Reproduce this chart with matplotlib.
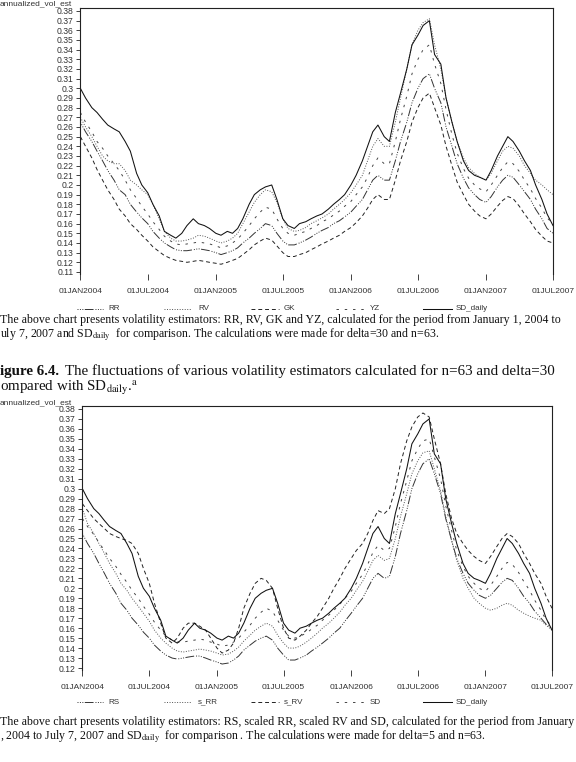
import matplotlib
matplotlib.use('Agg')
import matplotlib.pyplot as plt
import numpy as np
import pandas as pd
from matplotlib.lines import Line2D

plt.rcParams['mathtext.fontset'] = 'stix'

# ---------------- data (semi-monthly readings, 1st and 15th) ----------------
dates = pd.date_range('2004-01-01', '2007-07-01', freq='SMS')

sd_daily = [0.300,0.290,0.280,0.275,0.268,0.262,0.258,0.255,0.245,0.235,0.212,0.200,0.192,0.180,0.168,0.152,0.148,0.145,0.150,0.158,0.165,0.160,0.158,0.155,
            0.150,0.148,0.152,0.150,0.155,0.165,0.180,0.190,0.195,0.198,0.200,0.185,0.165,0.158,0.155,0.160,0.162,0.165,0.168,0.170,0.175,0.180,0.185,0.190,
            0.200,0.210,0.225,0.240,0.255,0.262,0.250,0.245,0.275,0.295,0.320,0.345,0.355,0.365,0.370,0.335,0.325,0.290,0.265,0.245,0.225,0.215,0.210,0.208,
            0.205,0.215,0.230,0.240,0.250,0.245,0.235,0.225,0.215,0.200,0.185,0.170,0.158]

# chart 1 (delta=30, n=63)
rr = [0.265,0.255,0.245,0.235,0.225,0.215,0.205,0.195,0.190,0.180,0.172,0.166,0.160,0.152,0.145,0.140,0.136,0.133,0.132,0.132,0.133,0.134,0.133,0.132,
      0.130,0.128,0.130,0.132,0.135,0.140,0.145,0.150,0.155,0.160,0.158,0.150,0.142,0.138,0.138,0.140,0.143,0.146,0.150,0.153,0.156,0.160,0.163,0.167,
      0.172,0.178,0.185,0.195,0.205,0.210,0.205,0.205,0.225,0.245,0.265,0.285,0.300,0.310,0.315,0.300,0.285,0.260,0.240,0.222,0.207,0.197,0.190,0.185,
      0.182,0.188,0.198,0.205,0.210,0.208,0.200,0.193,0.185,0.175,0.165,0.155,0.150]
rv = [0.270,0.260,0.250,0.240,0.230,0.225,0.222,0.222,0.215,0.205,0.200,0.195,0.190,0.180,0.165,0.152,0.145,0.142,0.142,0.143,0.145,0.148,0.147,0.145,
      0.142,0.140,0.142,0.145,0.150,0.160,0.172,0.182,0.190,0.195,0.193,0.182,0.165,0.155,0.152,0.153,0.156,0.160,0.163,0.166,0.170,0.175,0.180,0.185,
      0.192,0.200,0.210,0.225,0.240,0.248,0.240,0.240,0.265,0.290,0.320,0.345,0.360,0.368,0.372,0.345,0.320,0.290,0.265,0.245,0.228,0.218,0.212,0.208,
      0.205,0.212,0.225,0.235,0.240,0.238,0.230,0.220,0.212,0.205,0.200,0.195,0.190]
gk = [0.250,0.240,0.228,0.216,0.205,0.195,0.185,0.175,0.168,0.160,0.154,0.148,0.142,0.136,0.131,0.127,0.124,0.122,0.121,0.120,0.121,0.122,0.121,0.120,
      0.119,0.118,0.120,0.122,0.124,0.128,0.133,0.138,0.142,0.145,0.143,0.137,0.130,0.126,0.126,0.128,0.130,0.133,0.136,0.139,0.142,0.145,0.148,0.152,
      0.156,0.161,0.168,0.176,0.185,0.190,0.185,0.185,0.205,0.225,0.245,0.265,0.280,0.290,0.295,0.280,0.262,0.240,0.220,0.203,0.190,0.180,0.173,0.168,
      0.165,0.170,0.178,0.184,0.188,0.186,0.178,0.170,0.162,0.154,0.147,0.142,0.140]
yz = [0.275,0.265,0.255,0.245,0.238,0.230,0.222,0.215,0.205,0.195,0.186,0.178,0.170,0.162,0.154,0.147,0.142,0.139,0.138,0.139,0.140,0.141,0.140,0.139,
      0.137,0.135,0.137,0.140,0.144,0.150,0.158,0.165,0.172,0.177,0.175,0.165,0.155,0.150,0.148,0.150,0.152,0.155,0.158,0.162,0.165,0.169,0.173,0.178,
      0.183,0.190,0.198,0.208,0.220,0.228,0.222,0.222,0.245,0.268,0.292,0.315,0.330,0.340,0.345,0.325,0.305,0.278,0.252,0.233,0.217,0.207,0.200,0.196,
      0.193,0.200,0.210,0.218,0.224,0.222,0.214,0.205,0.196,0.186,0.176,0.166,0.160]

# chart 2 (delta=5, n=63)
rs = [0.255,0.245,0.235,0.225,0.215,0.205,0.195,0.185,0.178,0.170,0.163,0.156,0.150,0.143,0.137,0.133,0.130,0.129,0.130,0.131,0.132,0.132,0.130,0.128,
      0.126,0.124,0.125,0.128,0.132,0.138,0.143,0.147,0.150,0.152,0.148,0.140,0.133,0.128,0.128,0.130,0.133,0.137,0.141,0.145,0.150,0.155,0.160,0.167,
      0.175,0.182,0.190,0.200,0.210,0.215,0.210,0.212,0.232,0.255,0.278,0.300,0.315,0.325,0.330,0.315,0.295,0.270,0.248,0.230,0.215,0.205,0.198,0.193,
      0.190,0.193,0.200,0.206,0.210,0.208,0.200,0.192,0.185,0.177,0.170,0.164,0.160]
s_rr = [0.280,0.265,0.255,0.245,0.235,0.225,0.215,0.205,0.198,0.190,0.182,0.175,0.167,0.158,0.150,0.145,0.140,0.137,0.136,0.137,0.138,0.139,0.138,0.137,
        0.135,0.133,0.134,0.137,0.141,0.147,0.153,0.158,0.162,0.165,0.162,0.153,0.145,0.140,0.140,0.142,0.146,0.150,0.155,0.160,0.165,0.170,0.176,0.183,
        0.190,0.198,0.207,0.217,0.228,0.233,0.228,0.230,0.250,0.272,0.295,0.315,0.328,0.336,0.338,0.320,0.298,0.272,0.248,0.228,0.210,0.200,0.190,0.185,
        0.180,0.178,0.180,0.183,0.185,0.183,0.178,0.175,0.172,0.170,0.168,0.163,0.158]
s_rv = [0.285,0.278,0.270,0.265,0.260,0.255,0.252,0.250,0.248,0.245,0.235,0.220,0.205,0.185,0.165,0.150,0.145,0.150,0.160,0.165,0.165,0.162,0.158,0.150,
        0.140,0.135,0.138,0.145,0.160,0.180,0.195,0.205,0.210,0.208,0.200,0.180,0.160,0.150,0.148,0.152,0.158,0.165,0.172,0.180,0.190,0.200,0.210,0.220,
        0.230,0.238,0.245,0.255,0.268,0.278,0.275,0.280,0.300,0.325,0.348,0.362,0.372,0.376,0.372,0.350,0.325,0.295,0.270,0.255,0.245,0.238,0.232,0.228,
        0.225,0.232,0.242,0.250,0.255,0.252,0.245,0.235,0.225,0.215,0.205,0.192,0.180]
sd = [0.270,0.262,0.254,0.246,0.238,0.230,0.222,0.214,0.206,0.198,0.190,0.182,0.174,0.166,0.158,0.152,0.148,0.146,0.146,0.147,0.148,0.149,0.148,0.146,
      0.144,0.142,0.143,0.146,0.150,0.156,0.163,0.170,0.176,0.180,0.177,0.168,0.158,0.152,0.150,0.152,0.155,0.159,0.163,0.168,0.173,0.178,0.184,0.190,
      0.197,0.205,0.214,0.224,0.236,0.243,0.238,0.240,0.262,0.285,0.308,0.328,0.340,0.348,0.350,0.332,0.310,0.283,0.258,0.238,0.222,0.212,0.205,0.200,
      0.197,0.203,0.212,0.220,0.226,0.224,0.216,0.207,0.198,0.188,0.178,0.168,0.162]

labels_top = ['RR', 'RV', 'GK', 'YZ', 'SD_daily']
labels_bot = ['RS', 's_RR', 's_RV', 'SD', 'SD_daily']
xtick_dates = pd.to_datetime(['2004-01-01', '2004-07-01', '2005-01-01', '2005-07-01',
                              '2006-01-01', '2006-07-01', '2007-01-01', '2007-07-01'])
xtick_labels = ['01JAN2004', '01JUL2004', '01JAN2005', '01JUL2005',
                '01JAN2006', '01JUL2006', '01JAN2007', '01JUL2007']

# ---------------- styles ----------------
styles = [
    dict(ls=(0, (1, 1.5, 1, 1.5, 1, 1.5, 9, 2)), color='#333333', lw=0.7),  # dots + dash
    dict(ls=(0, (1, 1.6)), color='#555555', lw=0.7),                       # dotted
    dict(ls=(0, (4, 3)), color='#222222', lw=0.7),                          # dashed
    dict(ls=(0, (2.5, 6)), color='#444444', lw=0.7),                        # sparse dash
    dict(ls='-', color='#111111', lw=0.75),                                 # solid
]

W, H = 576, 762
fig = plt.figure(figsize=(W / 100, H / 100), dpi=100)
fig.patch.set_facecolor('white')

def fx(px):
    return px / W

def fy(py):
    return 1 - py / H

TXT = '#333333'
SANS = ['Liberation Sans', 'DejaVu Sans']
SERIF = ['Liberation Serif', 'DejaVu Serif']


def make_chart(left, right, top, bottom, ylo, yhi, yticks, series, labels, legend_y, label_y):
    ax = fig.add_axes([fx(left), fy(bottom), fx(right - left), (bottom - top) / H])
    for vals, st in zip(series, styles):
        ax.plot(dates, vals, **st)
    ax.set_xlim(pd.Timestamp('2003-12-31'), pd.Timestamp('2007-07-01'))
    ax.set_ylim(ylo, yhi)
    ax.set_yticks(yticks)
    ax.set_yticklabels([f'{v:.2f}'.rstrip('0') for v in yticks])
    ax.set_xticks(xtick_dates)
    ax.set_xticklabels(xtick_labels)
    for s in ['left', 'top', 'right']:
        ax.spines[s].set_linewidth(0.8)
        ax.spines[s].set_color('#222222')
    ax.spines['bottom'].set_visible(False)
    ax.tick_params(axis='y', direction='out', length=3, width=0.6, pad=1.5,
                   labelsize=6.2, colors='#222222', labelcolor=TXT)
    ax.tick_params(axis='x', direction='out', length=4, width=0.6, pad=6,
                   labelsize=6.0, colors='#222222', labelcolor=TXT)
    for t in ax.get_xticklabels() + ax.get_yticklabels():
        t.set_family(SANS)
    fig.text(fx(0), fy(label_y), 'annualized_vol_est', fontsize=6.0, family=SANS,
             color=TXT, ha='left', va='center')
    # legend
    line_x = [(77, 103), (164, 191), (251, 279), (336, 364), (423, 452)]
    text_x = [108, 198, 284, 370, 456]
    for (x0, x1), tx, st, lab in zip(line_x, text_x, styles, labels):
        fig.add_artist(Line2D([fx(x0), fx(x1)], [fy(legend_y), fy(legend_y)],
                              transform=fig.transFigure, **st))
        fig.text(fx(tx), fy(legend_y), lab, fontsize=5.8, family=SANS, color=TXT,
                 ha='left', va='center')
    return ax


yt1 = np.round(np.arange(0.11, 0.3801, 0.01), 2)
yt2 = np.round(np.arange(0.12, 0.3801, 0.01), 2)
ax1 = make_chart(80, 553, 8, 274, 0.1079, 0.3831, yt1,
                 [rr, rv, gk, yz, sd_daily], labels_top, 309, 4)
ax2 = make_chart(82, 552, 406, 670, 0.118, 0.383, yt2,
                 [rs, s_rr, s_rv, sd, sd_daily], labels_bot, 702, 403)

# ---------------- captions ----------------
CAP = 8.55
fig.text(fx(0), fy(320), 'The above chart presents volatility estimators: RR, RV, GK and YZ, '
         'calculated for the period from January 1, 2004 to',
         fontsize=CAP, family=SERIF, ha='left', va='center', color='#111111')
fig.text(fx(0), fy(335), 'uly 7, 2007 and SD$_{\\mathrm{daily}}$  for comparison. The calculations '
         'were made for delta=30 and n=63.',
         fontsize=CAP, family=SERIF, ha='left', va='center', color='#111111')

fig.canvas.draw()
r = fig.canvas.get_renderer()
HEAD = 10.8
t_b = fig.text(fx(0), fy(371), 'igure 6.4.', fontsize=HEAD, family=SERIF, weight='bold',
               ha='left', va='center', color='#111111')
bb = t_b.get_window_extent(renderer=r)
fig.text(bb.x1 / W + fx(6), fy(371), 'The fluctuations of various volatility estimators '
         'calculated for n=63 and delta=30',
         fontsize=HEAD, family=SERIF, ha='left', va='center', color='#111111')
fig.text(fx(0), fy(388), 'ompared with SD$_{\\mathrm{daily}}$.$^{\\mathrm{a}}$',
         fontsize=HEAD, family=SERIF, ha='left', va='center', color='#111111')

fig.text(fx(0), fy(722), 'The above chart presents volatility estimators: RS, scaled RR, scaled RV '
         'and SD, calculated for the period from January',
         fontsize=CAP, family=SERIF, ha='left', va='center', color='#111111')
fig.text(fx(0), fy(737), ', 2004 to July 7, 2007 and SD$_{\\mathrm{daily}}$  for comparison . '
         'The calculations were made for delta=5 and n=63.',
         fontsize=CAP, family=SERIF, ha='left', va='center', color='#111111')

fig.savefig('out.png', dpi=100, facecolor='white')
